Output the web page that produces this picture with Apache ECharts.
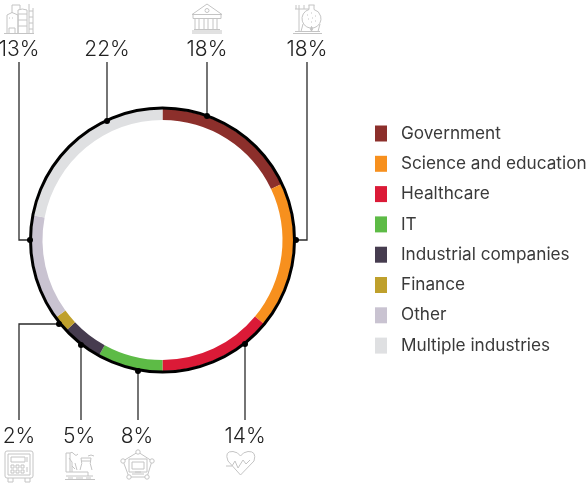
<!DOCTYPE html>
<html><head><meta charset="utf-8">
<style>html,body{margin:0;padding:0;background:#fff}#c{width:588px;height:483px}</style>
<script src="https://cdn.jsdelivr.net/npm/echarts@6/dist/echarts.min.js"></script>
</head><body><div id="c"></div>
<script>
const categories = ['Government','Science and education','Healthcare','IT','Industrial companies','Finance','Other','Multiple industries'];
const values = [18,18,14,8,5,2,13,22];
const colors = ['#8c2f2b','#f7901e','#db1a37','#5dbb46','#463c4f','#bfa02c','#c9c3d1','#dfe0e2'];
const FONT = 'Inter, "Noto Sans", sans-serif';
const CX = 162.5, CY = 240;

const leaders = [
  {t:'13%',lx:19,ly:50,pts:[[30,240],[19,240],[19,62]]},
  {t:'22%',lx:107,ly:50,pts:[[107,121],[107,62]]},
  {t:'18%',lx:207,ly:50,pts:[[207,116],[207,62]]},
  {t:'18%',lx:307,ly:50,pts:[[296,240],[307,240],[307,62]]},
  {t:'14%',lx:245,ly:437,pts:[[245,344],[245,420]]},
  {t:'8%',lx:137,ly:437,pts:[[138,371],[138,420]]},
  {t:'5%',lx:79,ly:437,pts:[[81,345],[81,420]]},
  {t:'2%',lx:19,ly:437,pts:[[59,324],[19,324],[19,420]]}
];
// decorative line icons (SVG path strings)
const icons = [
  // refinery
  'M4 33.5H34M12 13V5H20V9M7 33V15L12 12.5L18 15V33M18 33V10Q22 8 27 10V33M18 14H27M18 20H27M18 26H27M29 4V33M33 8V33M29 11H33M29 17H33M29 23H33M29 29H33M9 33V28H15V33M9 18H10M12 18H13',
  // bank
  'M207 4L192 14.5H222ZM193 15V18.5H221V15M195 19V29M199 19V29M204 19V29M208 19V29M213 19V29M217 19V29M194 29.5H220M192 31H222M192 33H222M205 10.5A2 2 0 1 0 209 10.5A2 2 0 1 0 205 10.5',
  // lab flask
  'M293 33.5H322M295 31.5H320M299 5V31.5M295 9H309M304 5V9M296 5V9M308.5 5H314.5M309 5V9.5A9.5 9.5 0 1 0 314 9.5V5M303 24L301 31.5M320 24L318 31.5M311.5 31V26.5Q309 29 311.5 31Q314 29 311.5 26.5M307 15H308M311 13H312M315 16H316M308 19H309M312 18H313M315 21H316M311 22H312',
  // safe
  'M7 451H31Q33 451 33 453V476Q33 478 31 478H7Q5 478 5 476V453Q5 451 7 451ZM8 454H30V475H8ZM11 457H25V462H11ZM11 465H14V468H11ZM16 465H19V468H16ZM21 465H24V468H21ZM11 470H14V473H11ZM16 470H19V473H16ZM21 470H24V473H21ZM27 457V462M27 467V472M8 478V482H13V478M25 478V482H30V478',
  // factory
  'M65 479.5H95M66 476H93M66 472H88V476M66 472V453H70V472M69 458L72 462V472M72 466L75 469M75 463L77 470M80 470Q83 463 81 458H91Q89 463 92 470M81 461H91M70 453Q72 451 74 454T78 454M88 456Q91 454 94 456M68 478H73M76 478H83M86 478H91',
  // network
  'M138 452L152 461L147 477H129L123 461ZM129 459H147V472H129ZM132 462H144V469H132ZM132 474H144M135 472H141',
  // heart
  'M240.5 475L228 461Q224 451 233 451.5Q238 452 240.5 456Q243 452 248 451.5Q257 451 254 461ZM226 466H232L235 461L238 468L243 460L246 464L250 460'
];
const nodes = [[138,452],[152,461],[147,477],[129,477],[123,461]];
const g = [];
icons.forEach((p,i)=>{
  const name='lineIcon'+i;
  echarts.graphic.registerShape(name, echarts.graphic.extendPath(p,{}));
  g.push({type:name,z:5,style:{stroke:'#c4c4c4',lineWidth:1,fill:null}});
});
nodes.forEach(n=>g.push({type:'circle',z:6,shape:{cx:n[0],cy:n[1],r:2.2},style:{stroke:'#c4c4c4',lineWidth:1,fill:'#fff'}}));
leaders.forEach(l=>{
  g.push({type:'polyline',z:10,shape:{points:l.pts},style:{stroke:'#2a2a2a',lineWidth:1.3,fill:null}});
  g.push({type:'circle',z:11,shape:{cx:l.pts[0][0],cy:l.pts[0][1],r:3},style:{fill:'#000'}});
  g.push({type:'text',z:11,x:l.lx,y:l.ly,style:{text:l.t,font:'300 21px '+FONT,fill:'#222',align:'center',verticalAlign:'middle'}});
});

const chart = echarts.init(document.getElementById('c'),null,{renderer:'canvas'});
chart.setOption({
  animation:false,
  legend:{orient:'vertical',left:370,top:120,itemWidth:12,itemHeight:16,itemGap:13.3,icon:'rect',selectedMode:false,
    data:categories,textStyle:{fontFamily:FONT,fontSize:17.2,lineHeight:15,color:'#3a3a3a',padding:[0,0,0,9]}},
  series:[
    {type:'pie',name:'share',radius:[120,131],center:[CX,CY],startAngle:90,clockwise:true,silent:true,
     label:{show:false},labelLine:{show:false},
     data:categories.map((n,i)=>({name:n,value:values[i],itemStyle:{color:colors[i]}}))},
    {type:'pie',name:'outline',radius:[130.5,133.5],center:[CX,CY],silent:true,label:{show:false},labelLine:{show:false},
     legendHoverLink:false,data:[{name:'outline',value:1,itemStyle:{color:'#000'}}]}
  ],
  graphic:g
});
</script></body></html>
